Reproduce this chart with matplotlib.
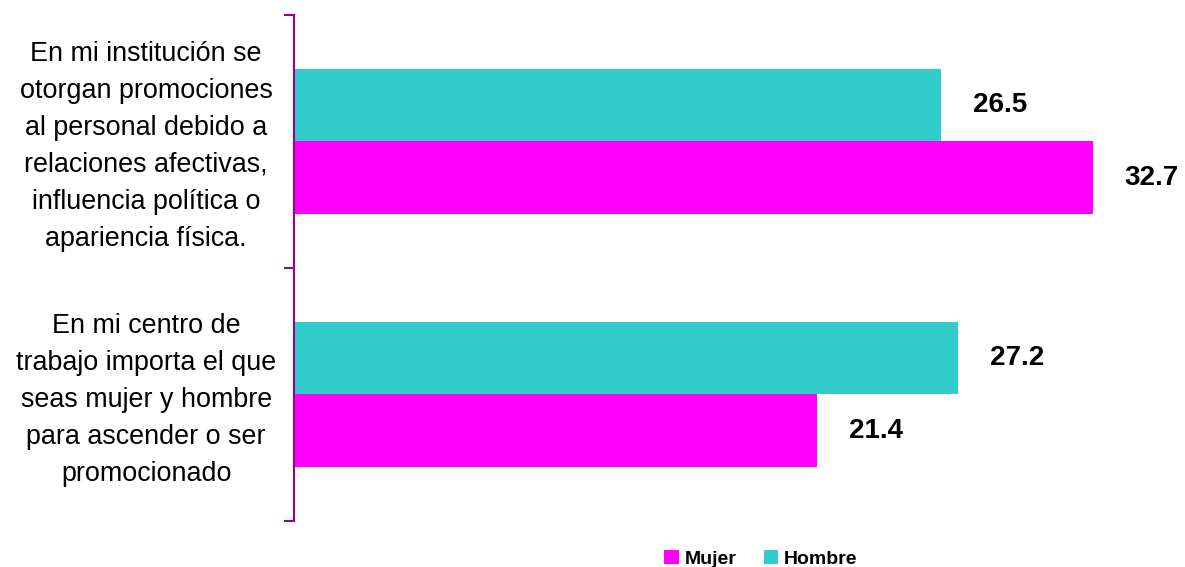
import matplotlib.pyplot as plt
import numpy as np

plt.rcParams['font.family'] = ['Liberation Sans', 'DejaVu Sans']

categories = [
    "En mi institución se\notorgan promociones\nal personal debido a\nrelaciones afectivas,\ninfluencia política o\napariencia física.",
    "En mi centro de\ntrabajo importa el que\nseas mujer y hombre\npara ascender o ser\npromocionado",
]
hombre = [26.5, 27.2]
mujer = [32.7, 21.4]

c_hombre = "#33CCCC"
c_mujer = "#FF00FF"
c_axis = "#990099"

fig = plt.figure(figsize=(11.85, 5.67), dpi=100)
ax = fig.add_axes([0.248, 0.081, 0.742, 0.893])

y = np.arange(len(categories))
h = 0.286
b_h = ax.barh(y - h / 2, hombre, height=h, color=c_hombre, label="Hombre")
b_m = ax.barh(y + h / 2, mujer, height=h, color=c_mujer, label="Mujer")

for bars, vals in ((b_h, hombre), (b_m, mujer)):
    for bar, v in zip(bars, vals):
        ax.annotate(f"{v:.1f}", (v, bar.get_y() + bar.get_height() / 2),
                    xytext=(23, 0), textcoords="offset points",
                    ha="left", va="center", fontsize=20, fontweight="bold")

ax.set_xlim(0, 36)
ax.set_ylim(len(categories) - 0.5, -0.5)

# category labels sit left of the axis, centred on each group
for i, lab in enumerate(categories):
    ax.text(-0.168, i + 0.02, lab, transform=ax.get_yaxis_transform(),
            ha="center", va="center", multialignment="center",
            fontsize=19.4, linespacing=1.55)

ax.set_yticks(np.arange(-0.5, len(categories)))
ax.set_yticklabels([])
ax.tick_params(axis="y", length=7, width=1.5, color=c_axis, direction="out")
ax.xaxis.set_visible(False)
for s in ("top", "right", "bottom"):
    ax.spines[s].set_visible(False)
ax.spines["left"].set_color(c_axis)
ax.spines["left"].set_linewidth(1.5)

handles = [b_m, b_h]
fig.legend(handles, ["Mujer", "Hombre"], loc="center", bbox_to_anchor=(0.642, 0.014),
           ncol=2, frameon=False, handlelength=0.75, handleheight=0.75,
           handletextpad=0.3, columnspacing=1.4,
           prop={"weight": "bold", "size": 14})

fig.savefig("out.png", dpi=100)
